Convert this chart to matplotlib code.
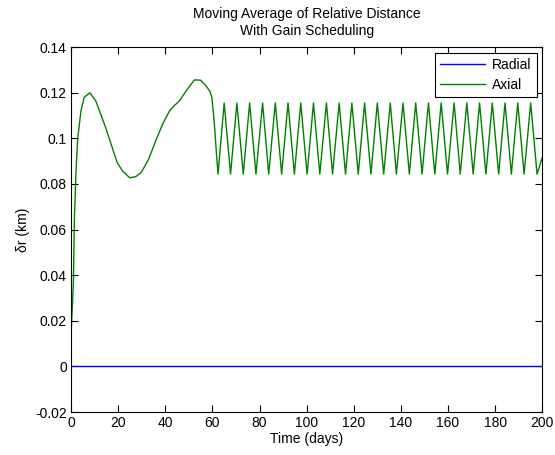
import matplotlib.pyplot as plt

# ===================================================================
# DATA
# ===================================================================

# Axial component: smooth transient before gain scheduling kicks in
t_transient = [0.0, 0.5, 1.0, 1.2, 1.4, 2.1, 2.8, 4.2, 5.6, 8.0, 10.5, 14.7,
               19.6, 22.0, 24.9, 27.5, 29.8, 33.0, 36.2, 39.0, 41.8, 44.0,
               46.0, 49.0, 52.3, 55.0, 57.3, 59.0, 59.8, 60.8, 61.6]
r_transient = [0.014, 0.025, 0.037, 0.050, 0.064, 0.085, 0.0996, 0.112,
               0.118, 0.120, 0.1164, 0.1047, 0.0893, 0.0855, 0.0827, 0.0832,
               0.0850, 0.0910, 0.0996, 0.1065, 0.1120, 0.1145, 0.1164,
               0.1210, 0.1256, 0.1255, 0.1230, 0.1205, 0.1178, 0.1070, 0.0950]

# Axial component: steady oscillation (peaks and troughs)
peak_t = [65.0, 70.4, 75.8, 81.3, 86.7, 92.1, 97.5, 102.9, 108.4, 113.8,
          119.2, 124.6, 130.0, 135.5, 140.9, 146.3, 151.7, 157.1, 162.6,
          168.0, 173.4, 178.8, 184.2, 189.6, 195.1]
peak_r = [0.1155, 0.1155, 0.1155, 0.1155, 0.1155, 0.1155, 0.1155, 0.1155,
          0.1155, 0.1155, 0.1155, 0.1155, 0.1155, 0.1155, 0.1155, 0.1155,
          0.1155, 0.1155, 0.1155, 0.1155, 0.1155, 0.1155, 0.1155, 0.1155,
          0.1155]
trough_t = [62.4, 67.7, 73.1, 78.5, 83.9, 89.4, 94.8, 100.2, 105.6, 111.0,
            116.5, 121.9, 127.3, 132.7, 138.1, 143.6, 149.0, 154.4, 159.8,
            165.2, 170.7, 176.1, 181.5, 186.9, 192.3, 197.8]
trough_r = [0.0843, 0.0843, 0.0843, 0.0843, 0.0843, 0.0843, 0.0843, 0.0843,
            0.0843, 0.0843, 0.0843, 0.0843, 0.0843, 0.0843, 0.0843, 0.0843,
            0.0843, 0.0843, 0.0843, 0.0843, 0.0843, 0.0843, 0.0843, 0.0843,
            0.0843, 0.0843]
t_end = [200.0]
r_end = [0.0915]

# Radial component stays at zero
t_radial = [0.0, 200.0]
r_radial = [0.0, 0.0]

# Axis ticks
x_ticks = [0, 20, 40, 60, 80, 100, 120, 140, 160, 180, 200]
y_ticks = [-0.02, 0, 0.02, 0.04, 0.06, 0.08, 0.1, 0.12, 0.14]
y_tick_labels = ['-0.02', '0', '0.02', '0.04', '0.06', '0.08', '0.1', '0.12', '0.14']

# Merge oscillation extrema into one time-ordered series
osc = sorted(zip(peak_t + trough_t + t_end, peak_r + trough_r + r_end))
t_axial = t_transient + [p[0] for p in osc]
r_axial = r_transient + [p[1] for p in osc]

# ===================================================================
# PLOT
# ===================================================================

plt.rcParams['font.family'] = ['Liberation Sans', 'DejaVu Sans']

fig = plt.figure(figsize=(5.55, 4.55), dpi=100)
ax = fig.add_axes([0.128, 0.0945, 0.849, 0.802])

ax.plot(t_radial, r_radial, color='#0000ff', linewidth=1.0, label='Radial')
ax.plot(t_axial, r_axial, color='#008000', linewidth=1.0, label='Axial')

ax.set_xlim(0, 200)
ax.set_ylim(-0.02, 0.14)
ax.set_xticks(x_ticks)
ax.set_yticks(y_ticks)
ax.set_yticklabels(y_tick_labels)
ax.tick_params(direction='in', top=True, right=True, labelsize=10, length=5, pad=3)

ax.set_title("Moving Average of Relative Distance\nWith Gain Scheduling", fontsize=10, pad=9)
ax.set_xlabel("Time (days)", fontsize=10, labelpad=1)
ax.set_ylabel("δr (km)", fontsize=10, labelpad=4)

leg = ax.legend(loc='upper right', fontsize=10, fancybox=False, framealpha=1,
                edgecolor='black', borderaxespad=0.4, borderpad=0.35,
                handlelength=3.3, handletextpad=0.5, labelspacing=0.45)
leg.get_frame().set_linewidth(0.8)

fig.savefig('out.png', dpi=100)
